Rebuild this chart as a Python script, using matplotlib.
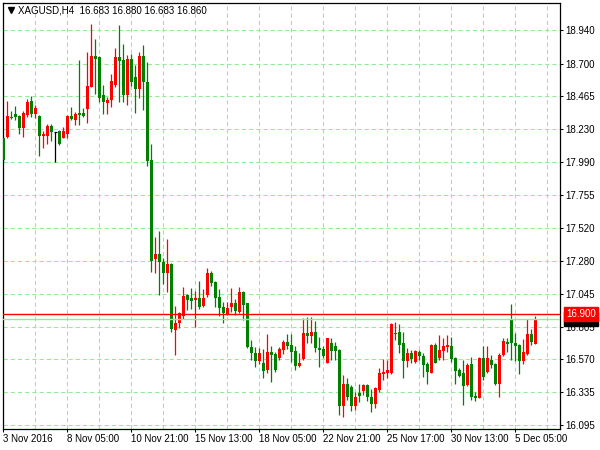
import matplotlib
matplotlib.use("Agg")
import matplotlib.pyplot as plt

plt.rcParams['font.family'] = ['Liberation Sans', 'DejaVu Sans']
plt.rcParams['lines.scale_dashes'] = False

# XAGUSD H4 bars, oldest first
opens = [18.166, 18.173, 18.319, 18.338, 18.324, 18.240, 18.331, 18.432, 18.338, 18.324,
         18.180, 18.180, 18.252, 18.211, 18.216, 18.166, 18.194, 18.324, 18.295, 18.346,
         18.346, 18.374, 18.535, 18.756, 18.749, 18.475, 18.416, 18.439, 18.547, 18.749,
         18.727, 18.475, 18.735, 18.605, 18.518, 18.756, 18.569, 18.007, 17.294, 17.330,
         17.274, 17.195, 17.258, 16.782, 16.835, 16.885, 17.034, 17.011, 16.998, 17.015,
         16.955, 17.034, 17.191, 17.130, 17.022, 16.950, 16.897, 16.950, 16.975, 16.914,
         17.058, 16.975, 16.658, 16.619, 16.559, 16.547, 16.494, 16.626, 16.609, 16.578,
         16.638, 16.698, 16.674, 16.633, 16.521, 16.571, 16.763, 16.739, 16.768, 16.655,
         16.643, 16.547, 16.686, 16.667, 16.638, 16.235, 16.393, 16.369, 16.235, 16.326,
         16.345, 16.386, 16.302, 16.249, 16.350, 16.465, 16.475, 16.470, 16.753, 16.770,
         16.688, 16.561, 16.614, 16.554, 16.622, 16.595, 16.537, 16.475, 16.674, 16.583,
         16.631, 16.658, 16.667, 16.578, 16.494, 16.470, 16.386, 16.535, 16.309, 16.294,
         16.578, 16.477, 16.566, 16.535, 16.391, 16.602, 16.698, 16.854, 16.686, 16.674,
         16.559, 16.607, 16.751, 16.683]
highs = [18.180, 18.432, 18.360, 18.398, 18.331, 18.360, 18.446, 18.468, 18.403, 18.330,
         18.216, 18.266, 18.266, 18.211, 18.223, 18.245, 18.328, 18.389, 18.353, 18.727,
         18.382, 18.785, 18.987, 18.879, 18.756, 18.547, 18.463, 18.627, 18.814, 18.980,
         18.843, 18.763, 18.771, 18.691, 18.787, 18.836, 18.713, 18.122, 17.450, 17.495,
         17.301, 17.438, 17.267, 16.957, 16.914, 17.090, 17.042, 17.083, 17.065, 17.137,
         17.078, 17.227, 17.207, 17.137, 17.075, 16.986, 16.986, 17.083, 17.003, 17.090,
         17.063, 16.980, 16.710, 16.658, 16.650, 16.643, 16.753, 16.667, 16.626, 16.658,
         16.710, 16.753, 16.753, 16.667, 16.614, 16.866, 16.874, 16.878, 16.847, 16.730,
         16.667, 16.728, 16.725, 16.698, 16.645, 16.458, 16.437, 16.386, 16.333, 16.393,
         16.393, 16.393, 16.355, 16.374, 16.506, 16.571, 16.566, 16.830, 16.842, 16.825,
         16.770, 16.650, 16.638, 16.638, 16.638, 16.614, 16.552, 16.679, 16.686, 16.746,
         16.727, 16.746, 16.734, 16.590, 16.508, 16.566, 16.542, 16.590, 16.338, 16.590,
         16.669, 16.669, 16.602, 16.542, 16.614, 16.727, 16.727, 16.967, 16.758, 16.679,
         16.717, 16.861, 16.789, 16.880]
lows = [17.985, 18.166, 18.302, 18.295, 18.194, 18.175, 18.317, 18.317, 18.310, 18.036,
        18.093, 18.122, 18.144, 17.993, 18.115, 18.162, 18.166, 18.295, 18.259, 18.259,
        18.317, 18.274, 18.533, 18.482, 18.425, 18.341, 18.341, 18.389, 18.533, 18.427,
        18.427, 18.403, 18.540, 18.348, 18.456, 18.367, 17.964, 17.202, 17.191, 17.034,
        17.114, 17.058, 16.770, 16.602, 16.794, 16.859, 16.926, 16.931, 16.806, 16.931,
        16.950, 17.022, 17.099, 16.950, 16.883, 16.830, 16.890, 16.914, 16.890, 16.903,
        16.854, 16.650, 16.566, 16.518, 16.537, 16.434, 16.470, 16.410, 16.482, 16.566,
        16.609, 16.643, 16.554, 16.494, 16.518, 16.566, 16.686, 16.686, 16.626, 16.514,
        16.578, 16.545, 16.566, 16.566, 16.170, 16.153, 16.278, 16.201, 16.206, 16.266,
        16.314, 16.273, 16.194, 16.218, 16.335, 16.422, 16.434, 16.465, 16.710, 16.617,
        16.438, 16.518, 16.542, 16.548, 16.566, 16.446, 16.393, 16.469, 16.542, 16.566,
        16.566, 16.626, 16.554, 16.391, 16.444, 16.242, 16.381, 16.278, 16.271, 16.290,
        16.422, 16.472, 16.506, 16.386, 16.302, 16.597, 16.622, 16.566, 16.559, 16.463,
        16.535, 16.602, 16.674, 16.683]
closes = [18.007, 18.324, 18.310, 18.319, 18.238, 18.346, 18.425, 18.338, 18.382, 18.180,
          18.194, 18.252, 18.209, 18.211, 18.122, 18.216, 18.324, 18.299, 18.338, 18.331,
          18.322, 18.538, 18.754, 18.737, 18.456, 18.423, 18.439, 18.576, 18.749, 18.720,
          18.475, 18.735, 18.569, 18.518, 18.756, 18.569, 18.002, 17.282, 17.330, 17.270,
          17.195, 17.258, 16.787, 16.835, 16.907, 17.027, 16.998, 16.993, 17.015, 16.950,
          17.015, 17.195, 17.123, 17.011, 16.938, 16.903, 16.943, 16.975, 16.921, 17.058,
          16.962, 16.658, 16.619, 16.561, 16.614, 16.489, 16.626, 16.602, 16.494, 16.643,
          16.698, 16.667, 16.626, 16.521, 16.542, 16.758, 16.739, 16.768, 16.650, 16.638,
          16.595, 16.725, 16.633, 16.633, 16.235, 16.393, 16.302, 16.237, 16.297, 16.307,
          16.386, 16.302, 16.249, 16.362, 16.470, 16.482, 16.494, 16.825, 16.763, 16.674,
          16.561, 16.614, 16.573, 16.631, 16.597, 16.530, 16.477, 16.674, 16.547, 16.638,
          16.669, 16.674, 16.573, 16.487, 16.453, 16.381, 16.530, 16.302, 16.294, 16.578,
          16.446, 16.578, 16.530, 16.391, 16.602, 16.703, 16.679, 16.686, 16.669, 16.561,
          16.622, 16.751, 16.698, 16.860]

time_labels = ["3 Nov 2016", "8 Nov 05:00", "10 Nov 21:00", "15 Nov 13:00", "18 Nov 05:00",
               "22 Nov 21:00", "25 Nov 17:00", "30 Nov 13:00", "5 Dec 05:00"]
price_ticks = [16.095, 16.335, 16.570, 16.805, 17.045, 17.280, 17.520, 17.755, 17.990,
               18.230, 18.465, 18.700, 18.940]
ask_price = 16.900
bid_price = 16.860
title = "XAGUSD,H4  16.683 16.880 16.683 16.860"

grid_col = '#90ee90'
bull_col = '#ff0000'
bear_col = '#008000'

fig = plt.figure(figsize=(6, 4.5), dpi=100)
ax = fig.add_axes([2.5 / 600, 21 / 450, 557.5 / 600, 426 / 450])

# grid
for p in price_ticks:
    ax.axhline(p, color=grid_col, lw=0.75, ls=(0, (3, 2.2)), zorder=1)
for gx in range(8, 140, 8):
    ax.axvline(gx, color=grid_col, lw=0.75, ls=(0, (3, 2.2)), zorder=1)

# candles (red = up bar, green = down bar)
n = len(opens)
xs = list(range(n))
colors = []
for o, c in zip(opens, closes):
    if c > o:
        colors.append(bull_col)
    elif c < o:
        colors.append(bear_col)
    else:
        colors.append('black')

ax.vlines(xs, lows, highs, colors=colors, lw=0.9, zorder=2)
bottoms = [min(o, c) for o, c in zip(opens, closes)]
heights = [abs(c - o) for o, c in zip(opens, closes)]
ax.bar(xs, heights, bottom=bottoms, width=0.7, color=colors, linewidth=0, zorder=3)
for i in range(n):
    if opens[i] == closes[i]:
        ax.hlines(opens[i], i - 0.35, i + 0.35, colors='black', lw=0.9, zorder=3)

# ask / bid lines
ax.axhline(bid_price, color=grid_col, lw=1.0, zorder=4)
ax.axhline(ask_price, color='red', lw=1.0, zorder=5)

ax.set_xlim(-0.2, 139.18)
ax.set_ylim(16.069, 19.138)

ax.yaxis.tick_right()
ax.set_yticks(price_ticks)
ax.set_yticklabels(['%.3f' % p for p in price_ticks])
ax.set_xticks(range(0, 16 * len(time_labels), 16))
ax.set_xticklabels(time_labels, ha='left')
ax.tick_params(axis='both', direction='out', length=2.5, width=0.75, labelsize=7,
               colors='black')
ax.tick_params(axis='y', pad=1.5)
ax.tick_params(axis='x', pad=1.0)
for s in ax.spines.values():
    s.set_color('black')
    s.set_linewidth(0.9)

# price labels on the right scale
ax.text(1.011, bid_price, '%.3f' % bid_price, transform=ax.get_yaxis_transform(),
        fontsize=7, color='white', va='center', ha='left', clip_on=False, zorder=6,
        bbox=dict(boxstyle='square,pad=0.2', fc='black', ec='black'))
ax.text(1.011, ask_price, '%.3f' % ask_price, transform=ax.get_yaxis_transform(),
        fontsize=7, color='white', va='center', ha='left', clip_on=False, zorder=7,
        bbox=dict(boxstyle='square,pad=0.2', fc='red', ec='red'))

# header
ax.plot([0.0155], [0.983], marker='v', ms=4, color='black', transform=ax.transAxes,
        clip_on=False)
fig.text(18 / 600, 1 - 10.5 / 450, title, fontsize=7, va='center', ha='left')

fig.savefig('out.png', dpi=100, facecolor='white')
